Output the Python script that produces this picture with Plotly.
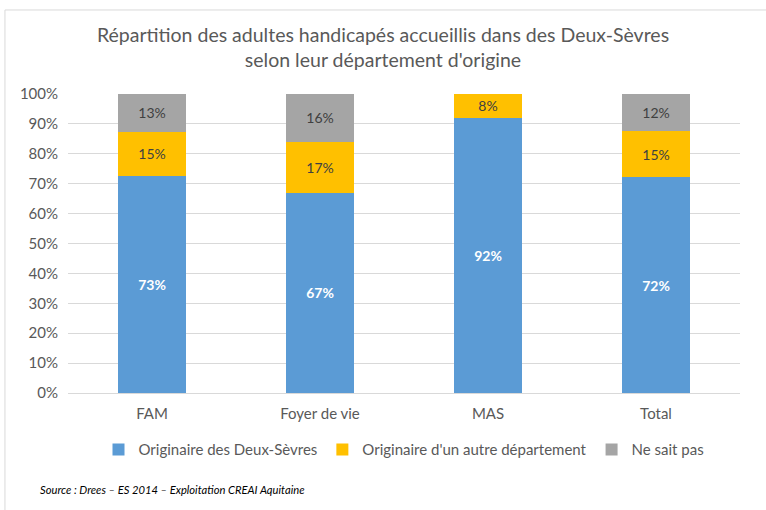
import plotly.graph_objects as go

categories = ["FAM", "Foyer de vie", "MAS", "Total"]
series_names = ["Originaire des Deux-Sèvres", "Originaire d'un autre département", "Ne sait pas"]
deux_sevres = [72.6, 66.9, 92.0, 72.2]
autre_dep = [14.8, 17.2, 8.0, 15.4]
ne_sait_pas = [12.6, 15.9, 0.0, 12.4]
tick_vals = [0, 10, 20, 30, 40, 50, 60, 70, 80, 90, 100]
tick_text = [f"{v}%" for v in tick_vals]

colors = ["#5B9BD5", "#FFC000", "#A5A5A5"]
font_family = "Lato, 'Open Sans', sans-serif"

def labels(vals):
    return [f"{v:.0f}%" if v > 0 else "" for v in vals]

fig = go.Figure()
for name, vals, col, bold in zip(series_names, [deux_sevres, autre_dep, ne_sait_pas], colors, [True, False, False]):
    txt = labels(vals)
    if bold:
        txt = [f"<b>{t}</b>" if t else "" for t in txt]
    fig.add_trace(go.Bar(
        x=categories, y=vals, name=name, marker_color=col, marker_line_width=0,
        text=txt, textposition="inside", insidetextanchor="middle",
        textfont=dict(color="#FFFFFF" if bold else "#404040", size=14, family=font_family),
        hoverinfo="skip",
    ))

fig.update_layout(
    barmode="stack",
    bargap=0.6,
    width=766, height=510,
    paper_bgcolor="white", plot_bgcolor="white",
    margin=dict(l=68, r=26, t=94, b=117),
    font=dict(family=font_family, color="#595959", size=15),
    title=dict(
        text="Répartition des adultes handicapés accueillis dans des Deux-Sèvres<br>selon leur département d'origine",
        x=0.5, xanchor="center", yref="container", y=1 - 41.5 / 510, yanchor="middle",
        font=dict(size=19.5, color="#595959", family=font_family),
    ),
    legend=dict(orientation="h", x=0.5, xanchor="center", y=-0.19, yanchor="middle",
                font=dict(size=15, color="#595959"), traceorder="normal",
                itemwidth=30),
    showlegend=True,
    uniformtext=dict(mode="show", minsize=8),
)
fig.update_yaxes(range=[0, 100], tickvals=tick_vals, ticktext=tick_text,
                 showgrid=True, gridcolor="#D9D9D9", gridwidth=1, zeroline=False,
                 showline=False, ticks="", ticklabelstandoff=9,
                 tickfont=dict(size=15, color="#595959"))
fig.update_xaxes(showgrid=False, showline=True, linecolor="#D9D9D9", linewidth=1, ticks="",
                 ticklabelstandoff=7, tickfont=dict(size=15, color="#595959"))

fig.add_annotation(text="<i>Source : Drees – ES 2014 – Exploitation CREAI Aquitaine</i>",
                   xref="paper", yref="paper", x=-0.0446, y=-0.324, xanchor="left", yanchor="middle",
                   showarrow=False, font=dict(size=11.2, color="#000000", family=font_family))

fig.add_shape(type="line", xref="paper", yref="paper", x0=-0.0938, x1=1.05, y0=1.281, y1=1.281,
              line=dict(color="#D9D9D9", width=1))
fig.add_shape(type="line", xref="paper", yref="paper", x0=-0.0938, x1=-0.0938, y0=1.281, y1=-0.4,
              line=dict(color="#D9D9D9", width=1))

fig.write_html("out.html", config={"displayModeBar": False},
               post_script="document.body.style.margin='0';")
